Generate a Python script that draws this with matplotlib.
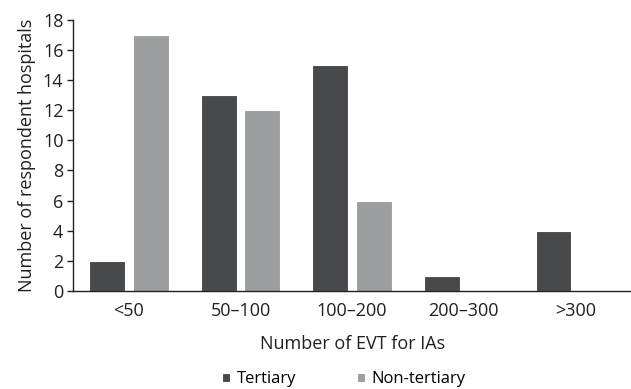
import numpy as np
import matplotlib.pyplot as plt

categories = ['<50', '50\u2013100', '100\u2013200', '200\u2013300', '>300']
tertiary = [2, 13, 15, 1, 4]
non_tertiary = [17, 12, 6, 0, 0]

plt.rcParams['font.family'] = ['Open Sans', 'DejaVu Sans']

fig = plt.figure(figsize=(6.31, 3.89), dpi=100)
ax = fig.add_axes([0.116, 0.252, 0.884, 0.697])

x = np.arange(len(categories))
w = 0.32
ax.bar(x - 0.195, tertiary, w, color='#48494b', edgecolor='white', linewidth=0.8, label='Tertiary')
ax.bar(x + 0.195, non_tertiary, w, color='#9d9ea0', edgecolor='white', linewidth=0.8, label='Non-tertiary')

ax.set_xlim(-0.5, len(categories) - 0.5)
ax.set_ylim(0, 18)
ax.set_yticks(range(0, 19, 2))
ax.set_xticks(x)
ax.set_xticklabels(categories)
ax.tick_params(axis='x', length=0, pad=8, labelsize=13, colors='#231f20')
ax.tick_params(axis='y', length=4, width=1, labelsize=13, colors='#231f20', pad=3)
for s in ['top', 'right']:
    ax.spines[s].set_visible(False)
for s in ['left', 'bottom']:
    ax.spines[s].set_color('#231f20')
    ax.spines[s].set_linewidth(1)

ax.set_ylabel('Number of respondent hospitals', fontsize=13, color='#231f20', labelpad=5)
ax.set_xlabel('Number of EVT for IAs', fontsize=13, color='#231f20', labelpad=11)
fig.legend(*ax.get_legend_handles_labels(), loc='center', bbox_to_anchor=(0.545, 0.025), ncol=2,
           frameon=False, fontsize=12, handlelength=0.5, handleheight=0.5, columnspacing=3.6,
           handletextpad=0.4, borderpad=0)

plt.savefig('out.png', dpi=100)
